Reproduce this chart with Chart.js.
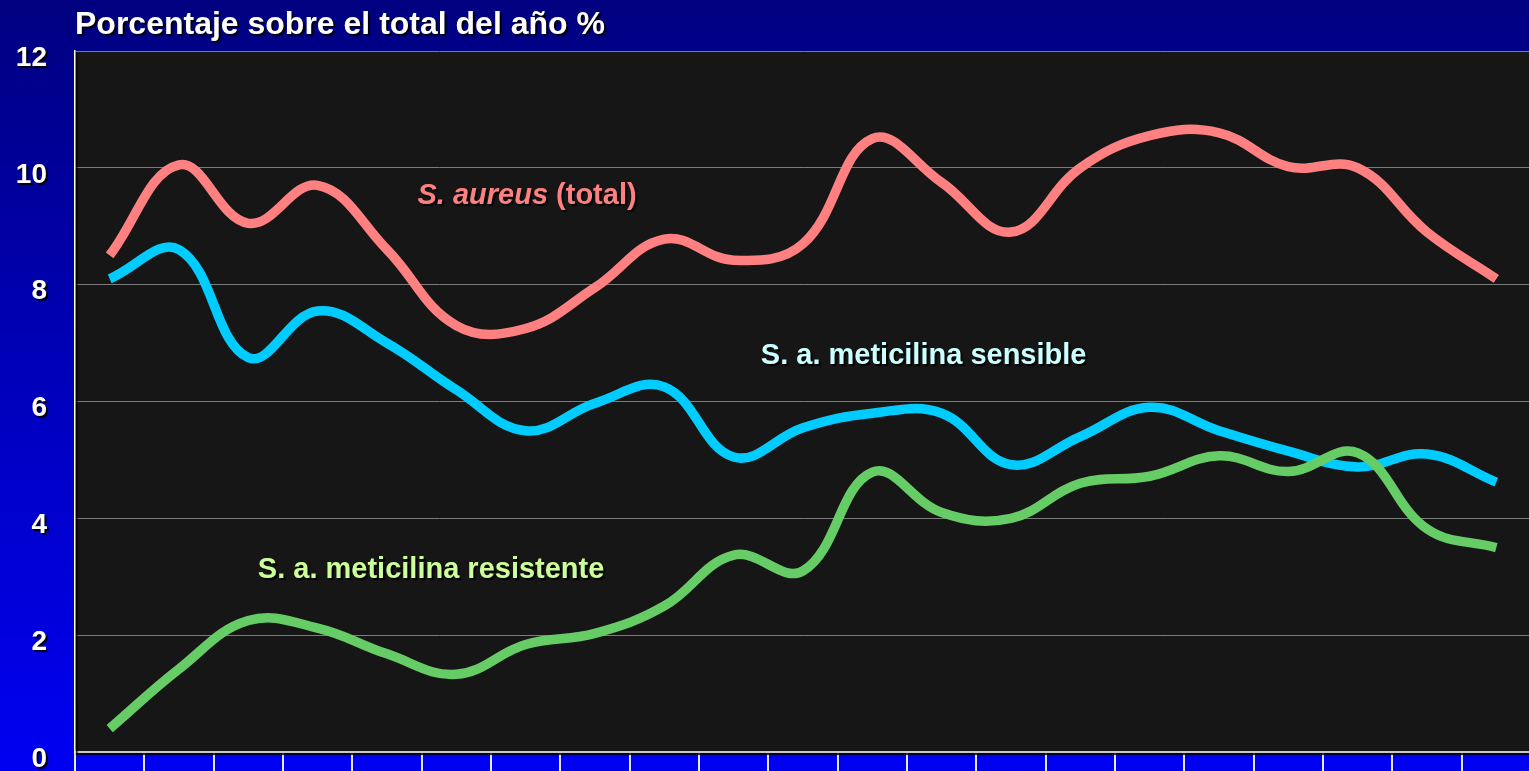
<!DOCTYPE html>
<html>
<head>
<meta charset="utf-8">
<script src="https://cdn.jsdelivr.net/npm/chart.js@4.4.1/dist/chart.umd.min.js"></script>
<style>
  html, body { margin: 0; padding: 0; width: 1529px; height: 771px; overflow: hidden;
    background: linear-gradient(to bottom, #000080 0%, #0000c8 60%, #0000f2 100%); }
  #c { position: absolute; left: 0; top: 0; }
</style>
</head>
<body>
<canvas id="c" width="1531" height="771"></canvas>
<script>
// ---- data ----
const categories = ['1','2','3','4','5','6','7','8','9','10','11','12','13','14','15','16','17','18','19','20','21'];
const totalValues      = [8.5, 10.05, 9.05, 9.7, 8.6, 7.3, 7.25, 7.95, 8.78, 8.42, 8.7, 10.5, 9.75, 8.9, 10.0, 10.55, 10.6, 10.02, 10.0, 8.9, 8.1];
const sensibleValues   = [8.1, 8.6, 6.75, 7.55, 7.0, 6.2, 5.5, 5.97, 6.25, 5.05, 5.55, 5.8, 5.8, 4.92, 5.4, 5.9, 5.5, 5.15, 4.88, 5.1, 4.62];
const resistenteValues = [0.4, 1.42, 2.25, 2.12, 1.68, 1.33, 1.84, 2.03, 2.5, 3.37, 3.1, 4.79, 4.1, 4.0, 4.6, 4.72, 5.07, 4.8, 5.12, 3.82, 3.5];
const yTickValues = [0, 2, 4, 6, 8, 10, 12];
const titleText = 'Porcentaje sobre el total del año %';
const seriesNames = ['S. aureus (total)', 'S. a. meticilina sensible', 'S. a. meticilina resistente'];
// in-plot series labels: [category position, value position]
const labelAnchors = [[6.02, 9.385], [11.74, 6.65], [4.636, 2.974]];

const FONT = '"Liberation Sans", Arial, Helvetica, sans-serif';

function shadowOn(c) { c.shadowColor = 'rgba(0,0,0,0.9)'; c.shadowOffsetX = 2; c.shadowOffsetY = 2; c.shadowBlur = 1; }
function shadowOff(c) { c.shadowColor = 'rgba(0,0,0,0)'; c.shadowOffsetX = 0; c.shadowOffsetY = 0; c.shadowBlur = 0; }

const decoPlugin = {
  id: 'deco',
  beforeInit(chart) {
    const box = {
      position: 'chartArea', fullSize: false, weight: 0, options: {},
      isHorizontal() { return false; },
      update() {}, draw() {},
      _layers() { return [{ z: -0.5, draw() { shadowOn(chart.ctx); } }]; }
    };
    Chart.layouts.addBox(chart, box);
  },
  beforeDraw(chart) {
    const { ctx, chartArea: a } = chart;
    shadowOff(ctx);
    ctx.save();
    ctx.fillStyle = '#161616';
    ctx.fillRect(a.left, a.top, a.right - a.left, a.bottom - a.top);
    ctx.restore();
  },
  beforeDatasetsDraw(chart) { shadowOff(chart.ctx); },
  afterDatasetsDraw(chart) {
    const { ctx, scales: { x, y } } = chart;
    ctx.save();
    shadowOn(ctx);
    ctx.textBaseline = 'alphabetic';
    ctx.textAlign = 'left';
    const [p0, v0] = labelAnchors[0];
    const it = 'italic bold 29px ' + FONT, bd = 'bold 29px ' + FONT;
    const partA = 'S. aureus', partB = ' (total)';
    ctx.font = it; const wA = ctx.measureText(partA).width;
    ctx.font = bd; const wB = ctx.measureText(partB).width;
    const sx = x.getPixelForValue(p0) - (wA + wB) / 2, sy = y.getPixelForValue(v0);
    ctx.fillStyle = '#ff8080';
    ctx.font = it; ctx.fillText(partA, sx, sy);
    ctx.font = bd; ctx.fillText(partB, sx + wA, sy);
    ctx.textAlign = 'center';
    ctx.font = bd;
    ctx.fillStyle = '#ccffff';
    ctx.fillText(seriesNames[1], x.getPixelForValue(labelAnchors[1][0]), y.getPixelForValue(labelAnchors[1][1]));
    ctx.fillStyle = '#ccff99';
    ctx.fillText(seriesNames[2], x.getPixelForValue(labelAnchors[2][0]), y.getPixelForValue(labelAnchors[2][1]));
    ctx.restore();
    shadowOff(ctx);
  }
};

const lineStyle = { borderWidth: 9.5, tension: 0.4, pointRadius: 0, pointHoverRadius: 0, fill: false, borderCapStyle: 'butt', borderJoinStyle: 'round' };

new Chart(document.getElementById('c'), {
  type: 'line',
  data: {
    labels: categories,
    datasets: [
      Object.assign({ label: seriesNames[0], data: totalValues, borderColor: '#ff8080', order: 2 }, lineStyle),
      Object.assign({ label: seriesNames[1], data: sensibleValues, borderColor: '#00ccff', order: 1 }, lineStyle),
      Object.assign({ label: seriesNames[2], data: resistenteValues, borderColor: '#66cc66', order: 0 }, lineStyle)
    ]
  },
  options: {
    responsive: false,
    animation: false,
    devicePixelRatio: 1,
    layout: { padding: 0 },
    plugins: {
      legend: { display: false },
      tooltip: { enabled: false },
      title: {
        display: true, text: titleText, align: 'start', fullSize: false,
        color: '#ffffff', font: { family: FONT, size: 32, weight: 'bold' },
        padding: { top: 6, bottom: 6.6 }
      }
    },
    scales: {
      x: {
        type: 'category', offset: true,
        grid: { offset: true, drawOnChartArea: false, drawTicks: true, tickLength: 19, color: '#e8e8e8', lineWidth: 2 },
        border: { display: true, color: '#c8c8c8', width: 2 },
        ticks: { display: false },
        afterFit(s) { s.height = 19; s.paddingLeft = 0; s.paddingRight = 0; }
      },
      y: {
        min: 0, max: 12,
        afterBuildTicks(s) { s.ticks = yTickValues.map(v => ({ value: v })); },
        ticks: { color: '#ffffff', font: { family: FONT, size: 28, weight: 'bold' }, padding: 28, labelOffset: 7 },
        grid: { color: '#7c7c7c', lineWidth: 1, drawTicks: false },
        border: { display: true, color: '#ffffff', width: 1.5 },
        afterFit(s) { s.width = 75; s.paddingTop = 0; s.paddingBottom = 0; }
      }
    }
  },
  plugins: [decoPlugin]
});
</script>
</body>
</html>
